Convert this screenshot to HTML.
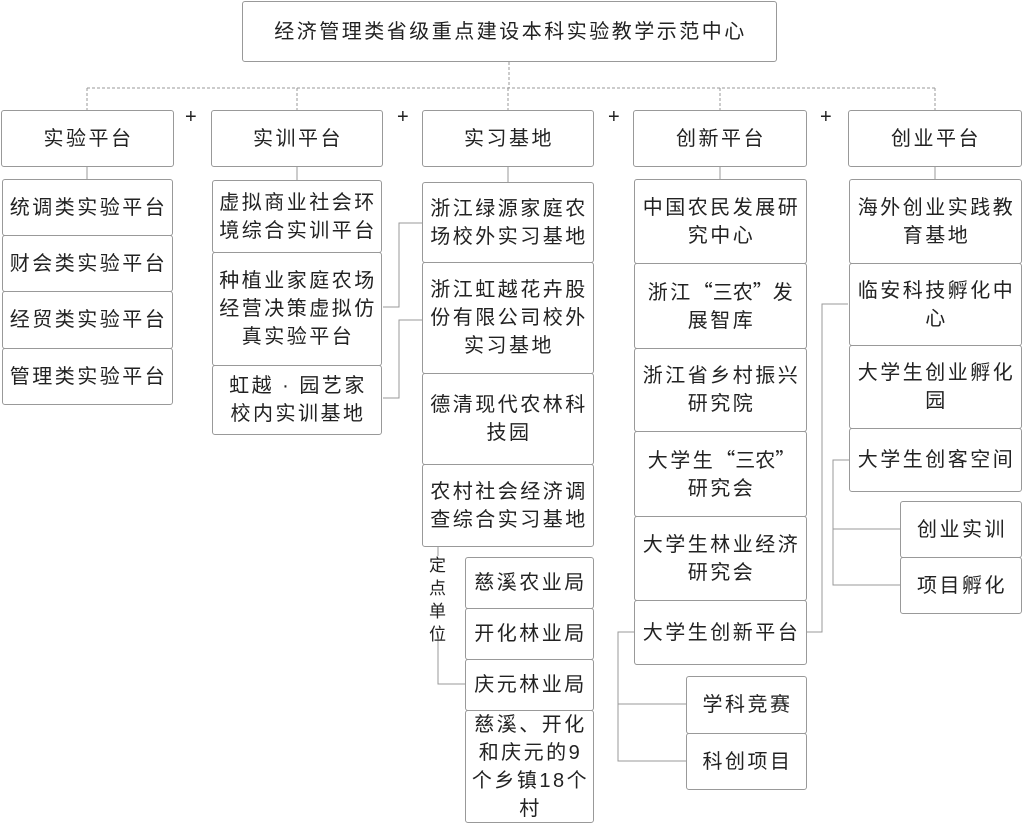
<!DOCTYPE html>
<html><head><meta charset="utf-8"><style>
body{margin:0;width:1024px;height:825px;background:#fff;position:relative;overflow:hidden;font-family:"Liberation Sans","Noto Sans CJK SC",sans-serif;color:#222}
.b{position:absolute;box-sizing:border-box;border:1px solid #999;border-radius:3px;background:#fff;display:flex;align-items:center;justify-content:center;text-align:center;font-size:20px;line-height:28px;letter-spacing:2.5px;white-space:nowrap;padding:0 0 0 2px}
.q{font-family:"Noto Sans CJK SC",sans-serif;letter-spacing:0}
.p{position:absolute;font-size:20px;color:#222}
svg{position:absolute;left:0;top:0}
</style></head><body>
<svg width="1024" height="825">
<g stroke="#999" stroke-width="1" fill="none" stroke-dasharray="3,2">
<path d="M509 62V88M87 88H935M87 88V110M297 88V110M508 88V110M720 88V110M935 88V110"/>
</g>
<g stroke="#999" stroke-width="1" fill="none">
<path d="M87 167V179M297 167V180M508 167V182M720 167V179M935 167V179"/>
<path d="M383 307H399V223H422M383 398H399V320H422"/>
<path d="M438 546V556M438 632V684H465"/>
<path d="M634 632H618V761H686M618 704H686"/>
<path d="M807 632H822V304H848"/>
<path d="M849 460H833V585H900M833 529H900"/>
</g>
</svg>
<div class="b" style="left:242px;top:1px;width:535px;height:61px">经济管理类省级重点建设本科实验教学示范中心</div>
<div class="b" style="left:1px;top:110px;width:173px;height:57px">实验平台</div>
<div class="b" style="left:211px;top:110px;width:172px;height:57px">实训平台</div>
<div class="b" style="left:422px;top:110px;width:172px;height:57px">实习基地</div>
<div class="b" style="left:633px;top:110px;width:174px;height:57px">创新平台</div>
<div class="b" style="left:848px;top:110px;width:174px;height:57px">创业平台</div>
<div class="p" style="left:185px;top:106px">+</div>
<div class="p" style="left:397px;top:106px">+</div>
<div class="p" style="left:608px;top:106px">+</div>
<div class="p" style="left:820px;top:106px">+</div>

<div class="b" style="left:2px;top:179px;width:171px;height:57px">统调类实验平台</div>
<div class="b" style="left:2px;top:235px;width:171px;height:57px">财会类实验平台</div>
<div class="b" style="left:2px;top:291px;width:171px;height:58px">经贸类实验平台</div>
<div class="b" style="left:2px;top:348px;width:171px;height:57px">管理类实验平台</div>

<div class="b" style="left:212px;top:180px;width:170px;height:73px"><div>虚拟商业社会环<br>境综合实训平台</div></div>
<div class="b" style="left:212px;top:252px;width:170px;height:114px"><div>种植业家庭农场<br>经营决策虚拟仿<br>真实验平台</div></div>
<div class="b" style="left:212px;top:365px;width:170px;height:70px"><div>虹越 · 园艺家<br>校内实训基地</div></div>

<div class="b" style="left:422px;top:182px;width:172px;height:81px"><div>浙江绿源家庭农<br>场校外实习基地</div></div>
<div class="b" style="left:422px;top:262px;width:172px;height:112px"><div>浙江虹越花卉股<br>份有限公司校外<br>实习基地</div></div>
<div class="b" style="left:422px;top:373px;width:172px;height:92px"><div>德清现代农林科<br>技园</div></div>
<div class="b" style="left:422px;top:464px;width:172px;height:83px"><div>农村社会经济调<br>查综合实习基地</div></div>
<div class="p" style="left:429px;top:554px;font-size:17px;line-height:23px;width:18px">定点单位</div>
<div class="b" style="left:465px;top:557px;width:129px;height:52px">慈溪农业局</div>
<div class="b" style="left:465px;top:608px;width:129px;height:52px">开化林业局</div>
<div class="b" style="left:465px;top:659px;width:129px;height:52px">庆元林业局</div>
<div class="b" style="left:465px;top:710px;width:129px;height:113px"><div>慈溪、开化<br>和庆元的9<br>个乡镇18个<br>村</div></div>

<div class="b" style="left:634px;top:179px;width:173px;height:85px"><div>中国农民发展研<br>究中心</div></div>
<div class="b" style="left:634px;top:263px;width:173px;height:86px"><div>浙江<span class="q">“三农”</span>发<br>展智库</div></div>
<div class="b" style="left:634px;top:348px;width:173px;height:84px"><div>浙江省乡村振兴<br>研究院</div></div>
<div class="b" style="left:634px;top:431px;width:173px;height:86px"><div>大学生<span class="q">“三农”</span><br>研究会</div></div>
<div class="b" style="left:634px;top:516px;width:173px;height:85px"><div>大学生林业经济<br>研究会</div></div>
<div class="b" style="left:634px;top:600px;width:173px;height:65px">大学生创新平台</div>
<div class="b" style="left:686px;top:676px;width:121px;height:58px">学科竞赛</div>
<div class="b" style="left:686px;top:733px;width:121px;height:57px">科创项目</div>

<div class="b" style="left:849px;top:179px;width:173px;height:85px"><div>海外创业实践教<br>育基地</div></div>
<div class="b" style="left:849px;top:263px;width:173px;height:83px"><div>临安科技孵化中<br>心</div></div>
<div class="b" style="left:849px;top:345px;width:173px;height:84px"><div>大学生创业孵化<br>园</div></div>
<div class="b" style="left:849px;top:428px;width:173px;height:64px">大学生创客空间</div>
<div class="b" style="left:900px;top:501px;width:122px;height:57px">创业实训</div>
<div class="b" style="left:900px;top:557px;width:122px;height:57px">项目孵化</div>
</body></html>
